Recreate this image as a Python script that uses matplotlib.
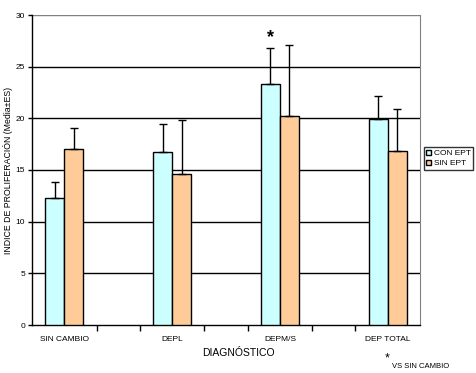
import matplotlib
matplotlib.use("Agg")
import matplotlib.pyplot as plt
import numpy as np

plt.rcParams['font.family'] = ['Liberation Sans', 'DejaVu Sans']

categories = ["SIN CAMBIO", "DEPL", "DEPM/S", "DEP TOTAL"]
con_ept = [12.3, 16.7, 23.3, 19.9]
con_ept_err = [1.5, 2.8, 3.5, 2.3]
sin_ept = [17.0, 14.6, 20.2, 16.8]
sin_ept_err = [2.1, 5.2, 6.9, 4.1]
series_names = ["CON EPT", "SIN EPT"]
yticks = [0, 5, 10, 15, 20, 25, 30]

W, H = 477, 373
fig = plt.figure(figsize=(W/100, H/100), dpi=100)
ax = fig.add_axes([32/W, 1-325/H, 388/W, 310/H])

x = np.arange(len(categories))
w = 0.175
b1 = ax.bar(x - w/2, con_ept, w, color='#CCFFFF', edgecolor='black', linewidth=1, zorder=3)
b2 = ax.bar(x + w/2, sin_ept, w, color='#FFCC99', edgecolor='black', linewidth=1, zorder=3)
ax.errorbar(x - w/2, con_ept, yerr=[np.zeros(4), con_ept_err], fmt='none', ecolor='black',
            elinewidth=1, capsize=3, capthick=1, zorder=4)
ax.errorbar(x + w/2, sin_ept, yerr=[np.zeros(4), sin_ept_err], fmt='none', ecolor='black',
            elinewidth=1, capsize=3, capthick=1, zorder=4)

ax.set_xlim(-0.3, 3.3)
ax.set_ylim(0, 30)
ax.set_yticks(yticks)
ax.set_yticklabels([str(v) for v in yticks], fontsize=6)
ax.set_xticks(x)
ax.set_xticklabels(categories, fontsize=6)
ax.tick_params(axis='x', which='major', length=0, pad=8)
ax.set_xticks([i + d for i in range(3) for d in (0.3, 0.7)], minor=True)
ax.tick_params(axis='x', which='minor', length=4, width=1, direction='out')
ax.tick_params(axis='y', length=3, width=1, direction='out', pad=2)

for v in yticks[1:-1]:
    ax.axhline(v, color='black', linewidth=1, zorder=1)
ax.axhline(30, color='#808080', linewidth=1, zorder=1)
ax.spines['top'].set_visible(False)
ax.spines['right'].set_color('#808080')
ax.spines['left'].set_linewidth(1)
ax.spines['bottom'].set_linewidth(1)

ax.set_ylabel("INDICE DE PROLIFERACIÓN (Media±ES)", fontsize=6.3)
ax.yaxis.set_label_coords(-0.048, 0.5)
fig.text(238/W, 1-353/H, "DIAGNÓSTICO", fontsize=7.5, ha='center', va='center')

ax.text(x[2] - w/2, con_ept[2] + con_ept_err[2] + 1.0, "*", fontsize=13, ha='center', va='center', fontweight='bold')
fig.text(387/W, 1-358/H, "*", fontsize=9, ha='center', va='center')
fig.text(392/W, 1-366/H, "VS SIN CAMBIO", fontsize=5.5, ha='left', va='center')

leg = fig.legend([b1, b2], series_names, loc='upper left', bbox_to_anchor=(424/W, 1-147/H),
                 fontsize=6, frameon=True, fancybox=False, edgecolor='black',
                 handlelength=0.6, handleheight=0.6, handletextpad=0.3, borderpad=0.3,
                 labelspacing=0.3, borderaxespad=0)
leg.get_frame().set_linewidth(1)

fig.savefig("out.png", dpi=100)
